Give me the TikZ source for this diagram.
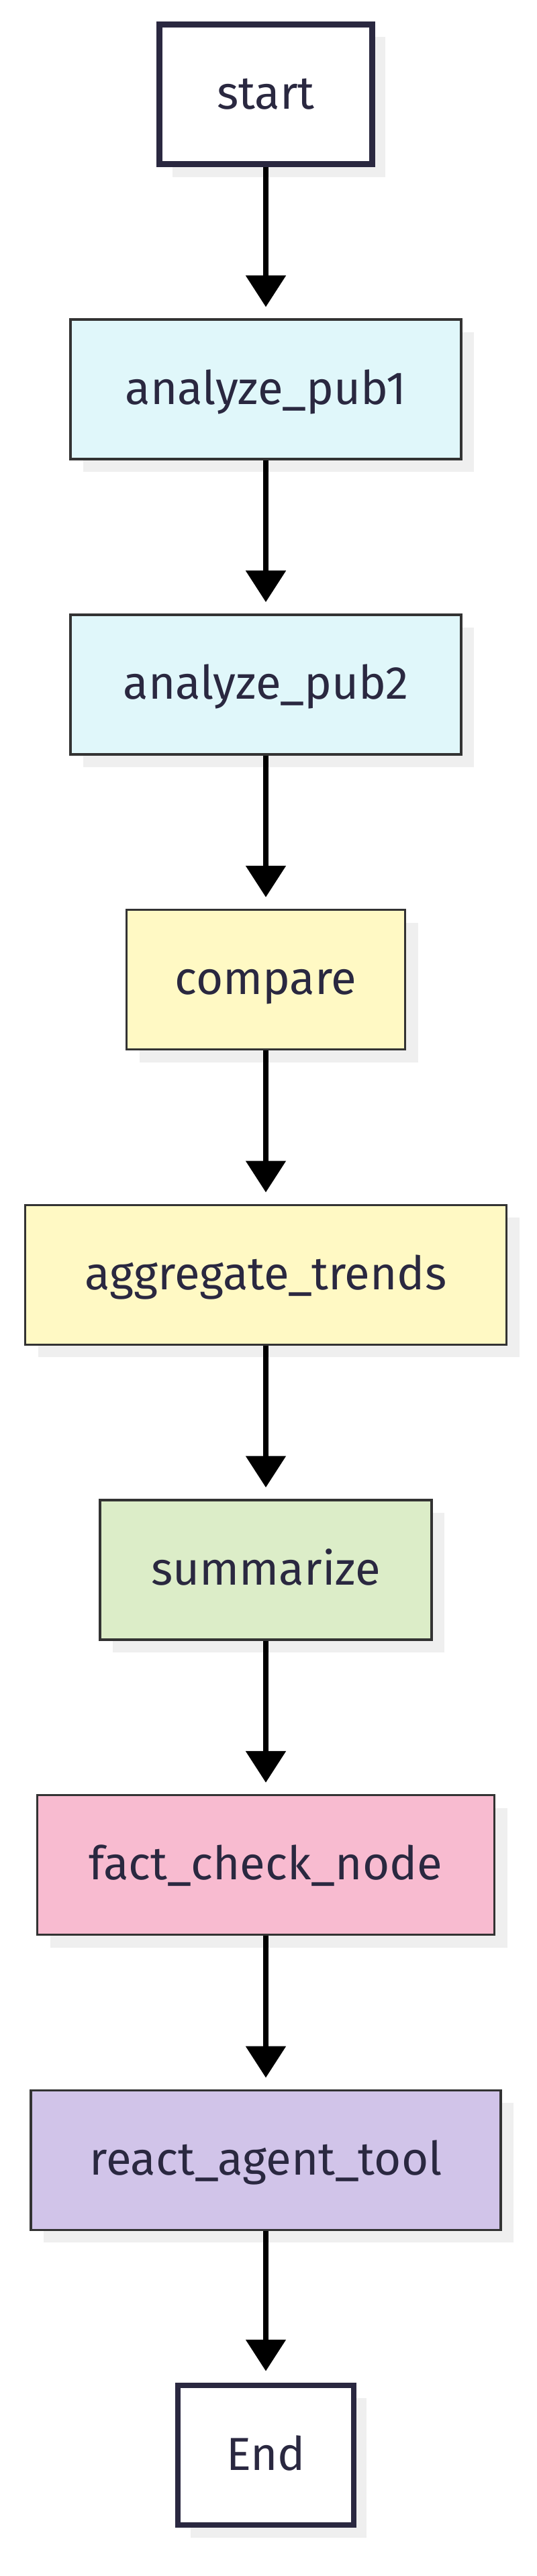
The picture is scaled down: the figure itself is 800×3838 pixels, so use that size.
\documentclass[tikz,border=0pt]{standalone}
\usepackage{fontspec}
\setmainfont{Fira Sans}
\usetikzlibrary{arrows.meta,shadows}
\definecolor{ink}{HTML}{2A2840}
\definecolor{boxline}{HTML}{333333}
\definecolor{shade}{HTML}{EFEFEF}
\definecolor{pubfill}{HTML}{E0F7FA}
\definecolor{trendfill}{HTML}{FFF9C4}
\definecolor{sumfill}{HTML}{DCEDC8}
\definecolor{checkfill}{HTML}{F8BBD0}
\definecolor{agentfill}{HTML}{D1C4E9}

\begin{document}
\begin{tikzpicture}[x=1pt,y=-1pt,
  box/.style={draw=boxline,line width=3.5pt,minimum height=208pt,inner sep=0pt,text=ink,
    font=\fontsize{69}{80}\selectfont,text height=44pt,text depth=0pt,
    drop shadow={shadow xshift=19pt,shadow yshift=-19pt,fill=shade,opacity=1}},
  term/.style={box,draw=ink,line width=8.7pt,fill=white},
  flow/.style={-{Triangle[width=58pt,length=47pt]},line width=8.7pt,shorten >=17pt}
]
\useasboundingbox (0,0) rectangle (800,3838);

\node[term,minimum width=317pt] (start) at (396,140.5) {start};
\node[box,fill=pubfill,minimum width=582pt] (pubone) at (396,580.2) {analyze\_pub1};
\node[box,fill=pubfill,minimum width=582pt] (pubtwo) at (396,1019.9) {analyze\_pub2};
\node[box,fill=trendfill,minimum width=415pt] (compare) at (396,1459.6) {compare};
\node[box,fill=trendfill,minimum width=717pt] (trends) at (396,1899.3) {aggregate\_trends};
\node[box,fill=sumfill,minimum width=494pt] (summ) at (396,2339.0) {summarize};
\node[box,fill=checkfill,minimum width=681pt] (check) at (396,2778.7) {fact\_check\_node};
\node[box,fill=agentfill,minimum width=700pt] (agent) at (396,3218.4) {react\_agent\_tool};
\node[term,minimum width=262pt] (end) at (396,3658.1) {End};

% straight chain, top to bottom
\foreach \a/\b in {start/pubone,pubone/pubtwo,pubtwo/compare,compare/trends,
    trends/summ,summ/check,check/agent,agent/end}
  \draw[flow] (\a) -- (\b);
\end{tikzpicture}
\end{document}
